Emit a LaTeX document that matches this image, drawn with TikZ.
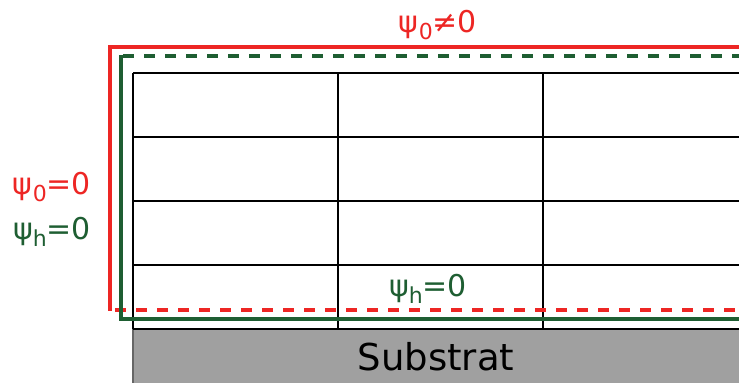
\documentclass[tikz,border=0pt]{standalone}
\usepackage{fontspec}
\setmainfont{DejaVu Sans}
\usetikzlibrary{positioning}
\definecolor{BCred}{RGB}{237,38,36}
\definecolor{BCgreen}{RGB}{30,94,50}
\definecolor{SubGray}{RGB}{160,160,160}
\newcommand{\psisub}[1]{ψ\raisebox{-0.22em}{\fontsize{22}{24}\selectfont #1}}
\tikzset{
  bc/red/.style={BCred, line width=4.5pt},
  bc/green/.style={BCgreen, line width=4.5pt},
  bc/dashed/.style={dash pattern=on 11pt off 10pt},
  layer/line/.style={line width=2.3pt, black},
  bc/label/.style={font=\fontsize{30}{32}\selectfont, inner sep=0pt},
  sub/label/.style={font=\fontsize{37}{40}\selectfont, inner sep=0pt}
}

\begin{document}
\begin{tikzpicture}[x=1pt, y=-1pt]
  \useasboundingbox (0,0) rectangle (739,383);
  % substrate
  \fill[SubGray] (133,329) rectangle (739,383);
  \draw[black!60, line width=1.5pt] (133,329) -- (133,383);
  \node[sub/label] (substrat) at (436,357) {Substrat};

  % layers
  \foreach \y in {73,137,201,265,329}
    \draw[layer/line] (133,\y) -- (739,\y);
  \foreach \x in {133,338,543}
    \draw[layer/line] (\x,73) -- (\x,329);

  % boundary conditions
  \draw[bc/red] (739,47) -- (110,47) -- (110,311);
  \draw[bc/red, bc/dashed] (115,310) -- (739,310);
  \draw[bc/green] (121,55) -- (121,319) -- (739,319);
  \draw[bc/green, bc/dashed] (123,56) -- (739,56);

  \node[bc/label, BCred] (psitop) at (438,25) {\psisub{0}≠0};
  \node[bc/label, BCred] (psileft) at (52,187) {\psisub{0}=0};
  \node[bc/label, BCgreen] (psihleft) at (52,232) {\psisub{h}=0};
  \node[bc/label, BCgreen] (psihbot) at (428,289) {\psisub{h}=0};
\end{tikzpicture}
\end{document}
